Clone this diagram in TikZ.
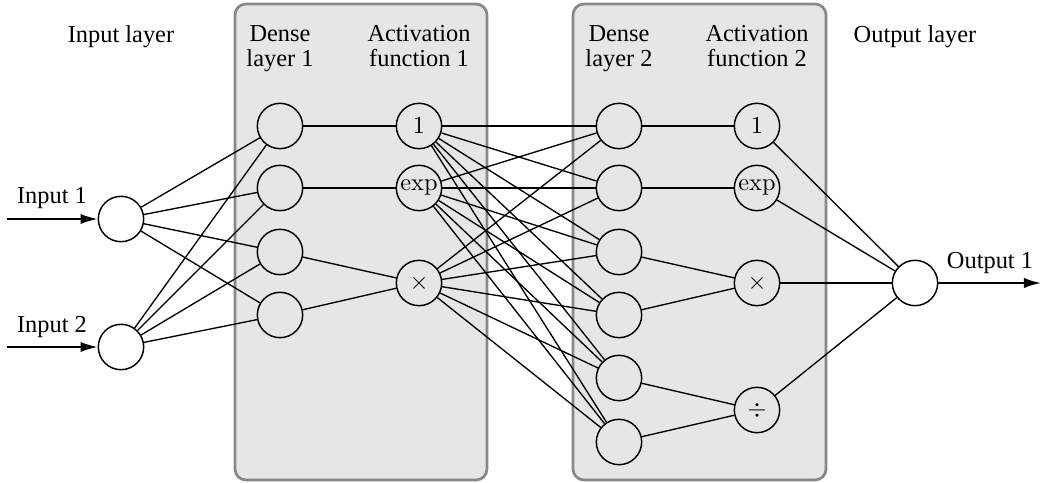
\documentclass[tikz,border=0pt]{standalone}
\usepackage[no-math]{fontspec}
\setmainfont{LiberationSerif}[Extension=.ttf,UprightFont=*-Regular,BoldFont=*-Bold,ItalicFont=*-Italic,BoldItalicFont=*-BoldItalic]
\usetikzlibrary{arrows.meta}
\begin{document}
\begin{tikzpicture}[x=0.41pt,y=-0.41pt,
  neuron/.style={circle,draw,line width=0.6pt,fill=white,minimum size=18.6pt,inner sep=0pt},
  actnode/.style={neuron,fill=boxfill},
  layerbox/.style={draw=boxdraw,fill=boxfill,line width=1.1pt,rounded corners=4.5pt},
  toplabel/.style={anchor=north,align=center,inner sep=0pt,font=\fontsize{10}{10.2}\selectfont},
  edge/.style={line width=0.55pt},
  ioarrow/.style={line width=0.8pt,-{Latex[length=7pt,width=4.2pt]}},
  iolabel/.style={inner sep=0pt,font=\fontsize{10}{12}\selectfont}]
\definecolor{boxfill}{HTML}{E6E6E6}
\definecolor{boxdraw}{HTML}{888888}
\useasboundingbox (0,0) rectangle (1042,483);
% boxes
\draw[layerbox] (235,4) rectangle (487,480);
\draw[layerbox] (573,4) rectangle (826,480);
% labels
\node[toplabel] (lin) at (121,25) {Input layer};
\node[toplabel] (ld1) at (280,25) {Dense\\layer 1};
\node[toplabel] (la1) at (419,25) {Activation\\function 1};
\node[toplabel] (ld2) at (619,25) {Dense\\layer 2};
\node[toplabel] (la2) at (757,25) {Activation\\function 2};
\node[toplabel] (lout) at (915,25) {Output layer};
% input nodes
\node[neuron] (i1) at (121,219) {};
\node[neuron] (i2) at (121,347) {};
% dense 1
\node[actnode] (d1) at (280,126) {};
\node[actnode] (d2) at (280,188) {};
\node[actnode] (d3) at (280,252) {};
\node[actnode] (d4) at (280,315) {};
% activation 1
\node[actnode] (a1) at (419,126) {$1$};
\node[actnode] (a2) at (419,188) {$\exp$};
\node[actnode] (a3) at (419,283) {$\times$};
% dense 2
\node[actnode] (e1) at (619,126) {};
\node[actnode] (e2) at (619,188) {};
\node[actnode] (e3) at (619,252) {};
\node[actnode] (e4) at (619,315) {};
\node[actnode] (e5) at (619,378) {};
\node[actnode] (e6) at (619,442) {};
% activation 2
\node[actnode] (b1) at (757,126) {$1$};
\node[actnode] (b2) at (757,188) {$\exp$};
\node[actnode] (b3) at (757,283) {$\times$};
\node[actnode] (b4) at (757,410) {$\div$};
% output
\node[neuron] (o1) at (915,283) {};
% input arrows
\coordinate (s1) at (7,219);
\coordinate (s2) at (7,347);
\coordinate (t1) at (1041,283);
\draw[ioarrow] (s1) -- (i1);
\draw[ioarrow] (s2) -- (i2);
\draw[ioarrow] (o1) -- (t1);
\node[iolabel] (li1) at (52,198) {Input 1};
\node[iolabel] (li2) at (52,327) {Input 2};
\node[iolabel] (lo1) at (990,263) {Output 1};
% edges input -> dense1
\foreach \i in {i1,i2}
  \foreach \d in {d1,d2,d3,d4}
    \draw[edge] (\i) -- (\d);
% dense1 -> act1
\draw[edge] (d1) -- (a1);
\draw[edge] (d2) -- (a2);
\draw[edge] (d3) -- (a3);
\draw[edge] (d4) -- (a3);
% act1 -> dense2
\foreach \a in {a1,a2,a3}
  \foreach \e in {e1,e2,e3,e4,e5,e6}
    \draw[edge] (\a) -- (\e);
% dense2 -> act2
\draw[edge] (e1) -- (b1);
\draw[edge] (e2) -- (b2);
\draw[edge] (e3) -- (b3);
\draw[edge] (e4) -- (b3);
\draw[edge] (e5) -- (b4);
\draw[edge] (e6) -- (b4);
% act2 -> output
\foreach \b in {b1,b2,b3,b4}
  \draw[edge] (\b) -- (o1);
\end{tikzpicture}
\end{document}
